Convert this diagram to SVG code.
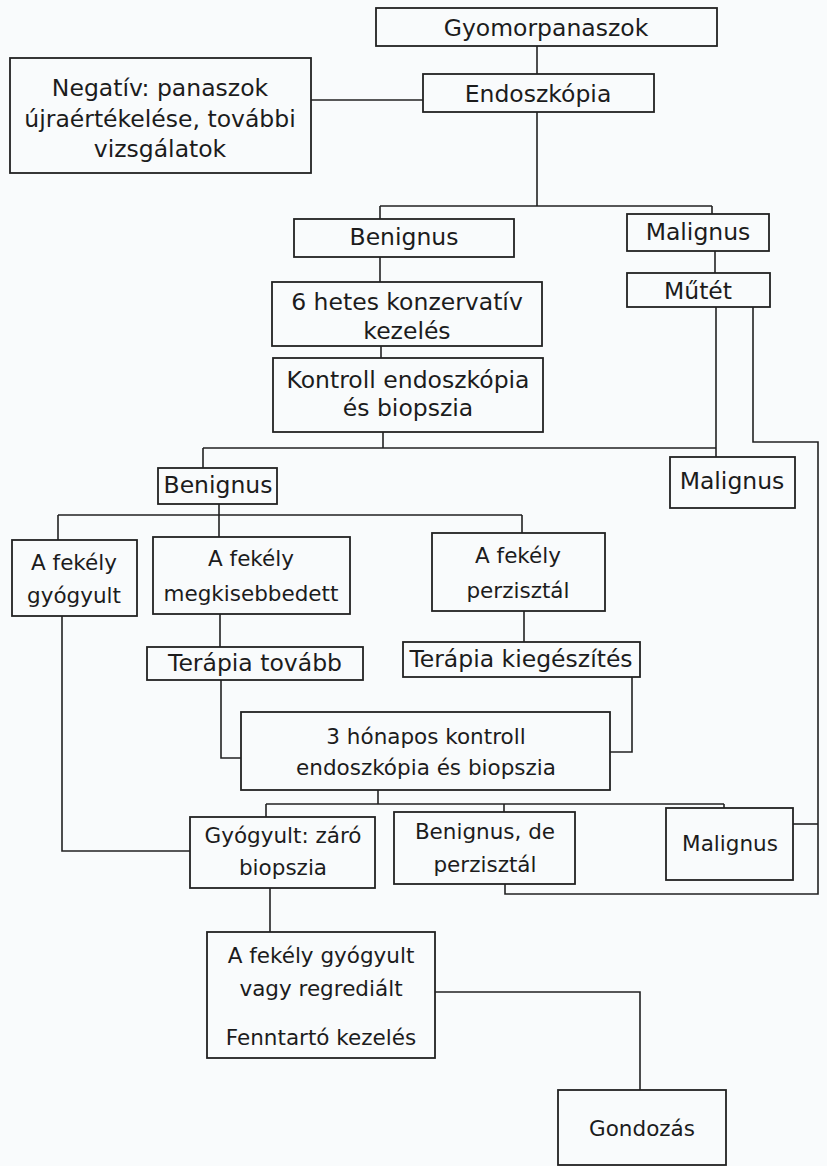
<svg xmlns="http://www.w3.org/2000/svg" width="827" height="1166" viewBox="0 0 827 1166">
<style>
rect.b{fill:none;stroke:#222;stroke-width:1.8}
text{font-family:"DejaVu Sans","Liberation Sans",sans-serif;fill:#1c1c1c;text-anchor:middle}
.l{font-size:23.5px}
.s{font-size:21.5px}
#connectors path{fill:none;stroke:#222;stroke-width:1.6}
</style>
<rect width="827" height="1166" fill="#f9fbfc"/>
<g id="connectors">
<path d="M537,46 V74"/>
<path d="M311,100 H423"/>
<path d="M537,112 V206 M380,206 H712 M380,206 V219 M712,206 V214"/>
<path d="M380,257 V282"/>
<path d="M381,346 V358"/>
<path d="M715,251 V273"/>
<path d="M383,432 V448 M203,448 H716 M203,448 V468 M716,307 V457"/>
<path d="M753,307 V442 H818 V894 H505 V884"/>
<path d="M219,504 V515 M58,515 H522 M58,515 V540 M219,515 V537 M522,515 V533"/>
<path d="M220,614 V647 M524,611 V642"/>
<path d="M221,680 V758 H241 M632,677 V752 H610"/>
<path d="M62,616 V851 H190"/>
<path d="M378,790 V804 M266,804 H724 M266,804 V817 M504,804 V812 M724,804 V808"/>
<path d="M793,824 H818"/>
<path d="M270,888 V932"/>
<path d="M435,992 H640 V1090"/>
</g>
<g id="gyomorpanaszok"><rect class="b" x="376" y="8" width="341" height="38"/><text class="l" x="546" y="36">Gyomorpanaszok</text></g>
<g id="endoszkopia"><rect class="b" x="423" y="74" width="231" height="38"/><text class="l" x="538" y="102">Endoszkópia</text></g>
<g id="negativ"><rect class="b" x="10" y="58" width="301" height="115"/><text class="l" x="160" y="96">Negatív: panaszok</text><text class="l" x="160" y="127">újraértékelése, további</text><text class="l" x="160" y="157">vizsgálatok</text></g>
<g id="benignus1"><rect class="b" x="294" y="219" width="220" height="38"/><text class="l" x="404" y="245">Benignus</text></g>
<g id="malignus1"><rect class="b" x="627" y="214" width="142" height="37"/><text class="l" x="698" y="240">Malignus</text></g>
<g id="hetes"><rect class="b" x="272" y="282" width="270" height="64"/><text class="l" x="407" y="310">6 hetes konzervatív</text><text class="l" x="407" y="339">kezelés</text></g>
<g id="kontroll"><rect class="b" x="273" y="358" width="270" height="74"/><text class="l" x="408" y="388">Kontroll endoszkópia</text><text class="l" x="408" y="416">és biopszia</text></g>
<g id="mutet"><rect class="b" x="627" y="273" width="143" height="34"/><text class="l" x="698" y="299">Műtét</text></g>
<g id="benignus2"><rect class="b" x="158" y="468" width="119" height="36"/><text class="l" x="218" y="493">Benignus</text></g>
<g id="malignus2"><rect class="b" x="670" y="457" width="125" height="51"/><text class="l" x="732" y="489">Malignus</text></g>
<g id="gyogyult"><rect class="b" x="12" y="540" width="125" height="76"/><text class="s" x="74" y="570">A fekély</text><text class="s" x="74" y="603">gyógyult</text></g>
<g id="megkisebbedett"><rect class="b" x="153" y="537" width="197" height="77"/><text class="s" x="251" y="566">A fekély</text><text class="s" x="251" y="601">megkisebbedett</text></g>
<g id="perzisztal"><rect class="b" x="432" y="533" width="173" height="78"/><text class="s" x="518" y="563">A fekély</text><text class="s" x="518" y="598">perzisztál</text></g>
<g id="terapia-tovabb"><rect class="b" x="147" y="647" width="216" height="33"/><text class="l" x="255" y="671">Terápia tovább</text></g>
<g id="terapia-kieg"><rect class="b" x="403" y="642" width="237" height="35"/><text class="l" x="521" y="667">Terápia kiegészítés</text></g>
<g id="honapos"><rect class="b" x="241" y="712" width="369" height="78"/><text class="s" x="426" y="744">3 hónapos kontroll</text><text class="s" x="426" y="775">endoszkópia és biopszia</text></g>
<g id="gyogyult-zaro"><rect class="b" x="190" y="817" width="185" height="71"/><text class="s" x="283" y="843">Gyógyult: záró</text><text class="s" x="283" y="875">biopszia</text></g>
<g id="benignus-de"><rect class="b" x="394" y="812" width="181" height="72"/><text class="s" x="485" y="839">Benignus, de</text><text class="s" x="485" y="872">perzisztál</text></g>
<g id="malignus3"><rect class="b" x="666" y="808" width="127" height="72"/><text class="s" x="730" y="851">Malignus</text></g>
<g id="regredialt"><rect class="b" x="207" y="932" width="228" height="126"/><text class="s" x="321" y="963">A fekély gyógyult</text><text class="s" x="321" y="996">vagy regrediált</text><text class="s" x="321" y="1045">Fenntartó kezelés</text></g>
<g id="gondozas"><rect class="b" x="558" y="1090" width="168" height="75"/><text class="s" x="642" y="1136">Gondozás</text></g>
</svg>
